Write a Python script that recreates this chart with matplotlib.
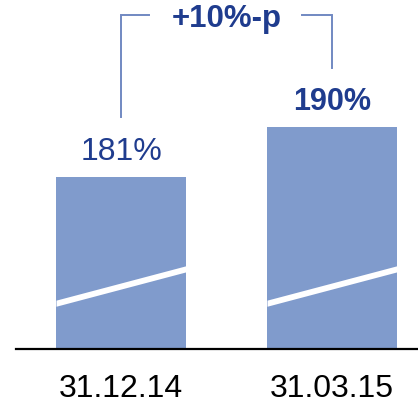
import matplotlib
matplotlib.use('agg')
import matplotlib.pyplot as plt

# ratios at the two reporting dates
dates = ['31.12.14', '31.03.15']
ratios = [181, 190]
change_label = '+10%-p'

BAR_COLOR = '#809bcc'
TEXT_COLOR = '#1f3c8e'
BRACKET_COLOR = '#7189c2'
BASE = 150  # axis is cut, bars start here

plt.rcParams['font.family'] = ['Liberation Sans', 'DejaVu Sans']

fig = plt.figure(figsize=(4.18, 4.05), dpi=100)
ax = fig.add_axes([0, 0, 1, 1])
ax.set_xlim(-0.5735, 1.4076)
ax.set_ylim(139.9, 212.9)
ax.axis('off')

x = list(range(len(ratios)))
width = 0.616
ax.bar(x, [r - BASE for r in ratios], bottom=BASE, width=width,
       color=BAR_COLOR, zorder=2)

# white slanted band marking the broken axis
for xi in x:
    x0, x1 = xi - width / 2, xi + width / 2
    ax.fill_between([x0, x1], [157.7, 163.9], [158.8, 165.0],
                    color='white', lw=0, zorder=3)

ax.axhline(BASE, xmin=16 / 418, xmax=1, color='black', lw=1.6, zorder=4)

# value labels, second one bold
ax.text(x[0], ratios[0] + 3.05, f'{ratios[0]}%', ha='center', va='baseline',
        fontsize=23, color=TEXT_COLOR)
ax.text(x[1], ratios[1] + 3.1, f'{ratios[1]}%', ha='center', va='baseline',
        fontsize=22, fontweight='bold', color=TEXT_COLOR)

# date labels below the baseline
for xi, d in zip(x, dates):
    ax.text(xi, 141.35, d, ha='center', va='baseline', fontsize=23,
            color='black')

# bracket showing the change between the two dates
top = 210.2
ax.plot([x[0], x[0], x[0] + 0.133], [ratios[0] + 10.8, top, top],
        color=BRACKET_COLOR, lw=1.4, solid_joinstyle='miter')
ax.plot([x[1] - 0.142, x[1], x[1]], [top, top, ratios[1] + 10.6],
        color=BRACKET_COLOR, lw=1.4, solid_joinstyle='miter')
ax.text((x[0] + x[1]) / 2, 208.0, change_label, ha='center', va='baseline',
        fontsize=22.5, fontweight='bold', color=TEXT_COLOR)

fig.savefig('out.png', dpi=100)
